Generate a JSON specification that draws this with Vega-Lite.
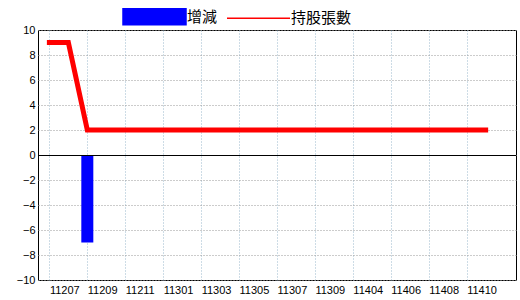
{
  "$schema": "https://vega.github.io/schema/vega-lite/v6.json",
  "autosize": "none",
  "width": 478,
  "height": 250,
  "padding": {"left": 38, "top": 30, "right": 4, "bottom": 20},
  "background": "white",
  "config": {
    "view": {"stroke": "black", "strokeWidth": 1},
    "axis": {"labelFont": "Liberation Sans", "labelFontSize": 11, "labelColor": "black", "ticks": false, "domain": false, "title": null, "labelOverlap": false}
  },
  "data": {
    "values": [
      {"month": "11207", "chg": 0, "shares": 9},
      {"month": "11208", "chg": 0, "shares": 9},
      {"month": "11209", "chg": -7, "shares": 2},
      {"month": "11210", "chg": 0, "shares": 2},
      {"month": "11211", "chg": 0, "shares": 2},
      {"month": "11212", "chg": 0, "shares": 2},
      {"month": "11301", "chg": 0, "shares": 2},
      {"month": "11302", "chg": 0, "shares": 2},
      {"month": "11303", "chg": 0, "shares": 2},
      {"month": "11304", "chg": 0, "shares": 2},
      {"month": "11305", "chg": 0, "shares": 2},
      {"month": "11306", "chg": 0, "shares": 2},
      {"month": "11307", "chg": 0, "shares": 2},
      {"month": "11308", "chg": 0, "shares": 2},
      {"month": "11309", "chg": 0, "shares": 2},
      {"month": "11403", "chg": 0, "shares": 2},
      {"month": "11404", "chg": 0, "shares": 2},
      {"month": "11405", "chg": 0, "shares": 2},
      {"month": "11406", "chg": 0, "shares": 2},
      {"month": "11407", "chg": 0, "shares": 2},
      {"month": "11408", "chg": 0, "shares": 2},
      {"month": "11409", "chg": 0, "shares": 2},
      {"month": "11410", "chg": 0, "shares": 2},
      {"month": "11411", "chg": 0, "shares": 2}
    ]
  },
  "encoding": {
    "x": {
      "field": "month",
      "type": "ordinal",
      "sort": null,
      "scale": {
        "type": "point",
        "padding": 0.6,
        "domain": ["11207","11208","11209","11210","11211","11212","11301","11302","11303","11304","11305","11306","11307","11308","11309","11403","11404","11405","11406","11407","11408","11409","11410","11411","11412"]
      },
      "axis": {
        "values": ["11207","11209","11211","11301","11303","11305","11307","11309","11404","11406","11408","11410"],
        "labelAngle": 0,
        "labelAlign": "left",
        "labelBaseline": "top",
        "labelPadding": 4,
        "grid": true,
        "gridColor": "#9ab8cc",
        "gridDash": [1, 2],
        "gridWidth": 1
      }
    }
  },
  "resolve": {"axis": {"y": "shared"}},
  "layer": [
    {
      "mark": {"type": "bar", "size": 12},
      "encoding": {
        "y": {
          "field": "chg",
          "type": "quantitative",
          "scale": {"domain": [-10, 10], "nice": false},
          "axis": {
            "values": [-10, -8, -6, -4, -2, 0, 2, 4, 6, 8, 10],
            "tickCount": 11,
            "labelOverlap": false,
            "labelPadding": 3,
            "grid": true,
            "gridColor": "#999999",
            "gridDash": [1, 2],
            "gridWidth": 1
          }
        },
        "color": {
          "datum": "增減",
          "type": "nominal",
          "scale": {"domain": ["增減", "持股張數"], "range": ["#0000ff", "#ff0000"]},
          "legend": {
            "orient": "none",
            "legendX": 84,
            "legendY": -46,
            "direction": "horizontal",
            "title": null,
            "padding": 0,
            "symbolSize": 3969,
            "symbolStrokeWidth": 1.5,
            "labelFont": "Noto Sans CJK TC",
            "labelFontSize": 15,
            "labelColor": "black",
            "labelOffset": 0,
            "columnPadding": 6,
            "encode": {
              "symbols": {
                "update": {
                  "shape": {"signal": "datum.value === '增減' ? 'M-1,-0.254H1V0.254H-1Z' : 'M-1,0H1'"},
                  "fill": {"signal": "datum.value === '增減' ? '#0000ff' : 'transparent'"},
                  "stroke": {"signal": "datum.value === '增減' ? 'transparent' : '#ff0000'"},
                  "strokeWidth": {"value": 1.5},
                  "opacity": {"value": 1}
                }
              }
            }
          }
        }
      }
    },
    {
      "mark": {"type": "line", "strokeWidth": 5, "strokeCap": "square"},
      "encoding": {
        "y": {"field": "shares", "type": "quantitative"},
        "color": {"datum": "持股張數", "type": "nominal"}
      }
    },
    {
      "mark": {"type": "rule", "color": "black", "strokeWidth": 1, "yOffset": 0.5},
      "encoding": {"y": {"datum": 0}, "x": {"value": 0}, "x2": {"value": 478}}
    }
  ]
}
